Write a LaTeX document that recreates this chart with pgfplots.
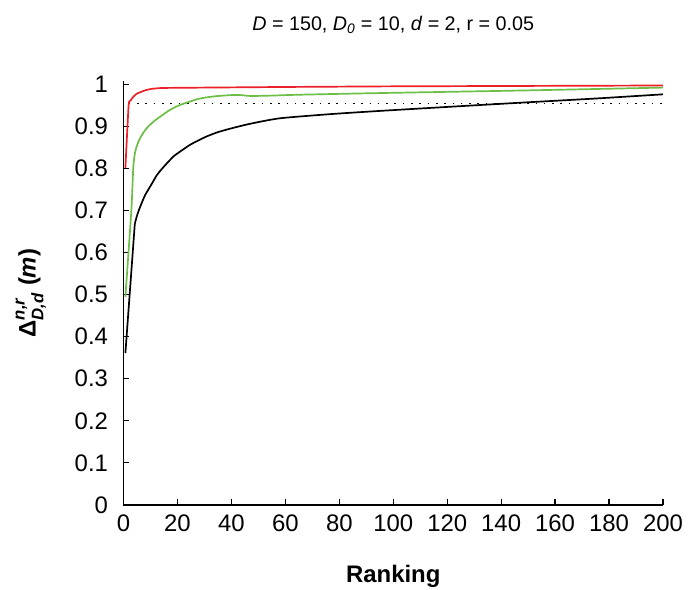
\documentclass[border=0pt]{standalone}
\usepackage{fontspec}
\setmainfont{Liberation Sans}
\usepackage{amsmath}
\usepackage{pgfplots}
\pgfplotsset{compat=1.18}
\definecolor{cred}{RGB}{236,32,40}
\definecolor{cgreen}{RGB}{108,190,70}
\begin{document}
\begin{tikzpicture}
\begin{axis}[
  scale only axis,
  width=539.5bp, height=423.5bp,
  xmin=0, xmax=200, ymin=0, ymax=1.008,
  axis x line*=bottom, axis y line*=left,
  axis line style={line width=1.6bp, black},
  xtick={0,20,...,200},
  ytick={0,0.1,...,1.0},
  tick align=inside,
  major tick length=6bp,
  tick style={line width=1.3bp, black},
  /pgf/number format/assume math mode=true,
  yticklabel style={/pgf/number format/fixed, /pgf/number format/precision=1, xshift=-12bp},
  xticklabel style={yshift=-6bp},
  ticklabel style={font=\fontsize{24}{28}\selectfont},
  title={\textit{D} = 150, \textit{D}$_{\text{\itshape 0}}$ = 10, \textit{d} = 2, r = 0.05},
  title style={font=\fontsize{19.8}{23}\selectfont, at={(rel axis cs:0.5,1)}, anchor=center, yshift=50bp},
  xlabel={\bfseries Ranking},
  xlabel style={font=\fontsize{24}{28}\selectfont, at={(rel axis cs:0.5,0)}, anchor=center, yshift=-72bp},
  ylabel={\bfseries $\text{\bfseries Δ}^{\text{\bfseries\itshape n,r}}_{\text{\bfseries\itshape D,d}}$ (\textit{m})},
  ylabel style={font=\fontsize{24}{28}\selectfont, at={(axis description cs:-0.172,0.5)}, anchor=center},
  clip=false,
]
\coordinate (o) at (rel axis cs:0,0);
\addplot[black, line width=1.2bp, dash pattern=on 1.6bp off 6.7bp] coordinates {(2,0.956) (200,0.956)};
\addplot[black, line width=1.7bp] coordinates {(0.7,0.361) (4.2,0.669)};
\addplot[black, line width=1.7bp, smooth, tension=0.35] coordinates {
(4.2,0.669) (5.0,0.688) (6.1,0.708) (8,0.737) (10.4,0.763) (12.3,0.784) (14.7,0.803) (18.5,0.829) (21.5,0.843) (24.7,0.857) (27.7,0.867) (30.9,0.877) (35,0.887) (40,0.896) (47,0.907) (58,0.920) (77,0.930) (95,0.9375) (120,0.947) (147,0.957) (175,0.967) (200,0.977)};
\addplot[cgreen, line width=1.7bp, smooth, tension=0.4] coordinates {
(0.7,0.495) (2.9,0.70) (3.6,0.80) (4.2,0.836) (5,0.855) (6.0,0.871) (7.5,0.887) (9.1,0.90) (11.5,0.914) (14.1,0.926) (17,0.939) (20.3,0.95) (23.8,0.958) (27.7,0.966) (31,0.970) (35,0.973) (41,0.9755) (44,0.975) (47,0.973) (55,0.974) (65,0.976) (95,0.980) (147,0.986) (200,0.993)};
\addplot[cred, line width=1.7bp, smooth, tension=0.3] coordinates {
(0.7,0.802) (1.9,0.951) (2.6,0.962) (3.5,0.970) (4.8,0.978) (6.6,0.983) (8.3,0.987) (10.4,0.990) (14,0.992) (20,0.9925) (40,0.9935) (60,0.9945) (100,0.996) (150,0.997) (200,0.998)};
\end{axis}
\pgfresetboundingbox
\path[use as bounding box] (o) ++(-123.5bp,-85.2bp) rectangle ++(697bp,590bp);
\end{tikzpicture}
\end{document}
